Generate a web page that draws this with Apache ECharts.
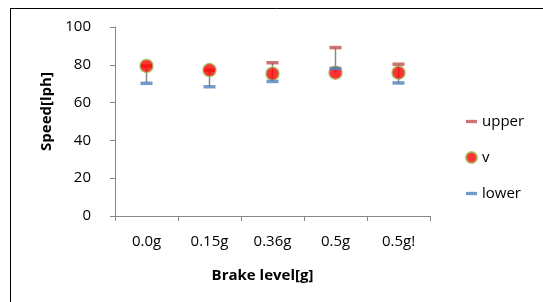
<!DOCTYPE html>
<html><head><meta charset="utf-8">
<script src="https://cdn.jsdelivr.net/npm/echarts@6/dist/echarts.min.js"></script>
<style>html,body{margin:0;padding:0;background:#fff}#c{width:543px;height:302px}</style>
</head><body><div id="c"></div>
<script>
var categories = ['0.0g', '0.15g', '0.36g', '0.5g', '0.5g!'];
var upper = [79.4, 77.2, 81.1, 89.1, 80.3];
var v = [79.4, 77.2, 75.3, 75.8, 75.8];
var lower = [70.2, 68.4, 71.2, 78.1, 70.4];
var yTicks = [0, 20, 40, 60, 80, 100];

var font = '"Open Sans", "Liberation Sans", sans-serif';
var hiLo = categories.map(function (c, i) {
  return [i, Math.max(upper[i], v[i], lower[i]), Math.min(upper[i], v[i], lower[i])];
});

var chart = echarts.init(document.getElementById('c'), null, {renderer: 'canvas'});
chart.setOption({
  animation: false,
  textStyle: {fontFamily: font},
  grid: {left: 115, right: 113, top: 27, bottom: 86},
  graphic: [
    {type: 'line', shape: {x1: 10.5, y1: 8, x2: 10.5, y2: 302}, style: {stroke: '#000', lineWidth: 1}},
    {type: 'line', shape: {x1: 10, y1: 8.5, x2: 543, y2: 8.5}, style: {stroke: '#000', lineWidth: 1}}
  ],
  xAxis: {
    type: 'category', data: categories, boundaryGap: true,
    axisLine: {lineStyle: {color: '#868686'}},
    axisTick: {show: true, length: 5, alignWithLabel: false, lineStyle: {color: '#868686'}},
    axisLabel: {color: '#000', fontSize: 15, margin: 18, fontFamily: font},
    name: 'Brake level[g]', nameLocation: 'middle', nameGap: 52,
    nameTextStyle: {color: '#000', fontSize: 15, fontWeight: 'bold', fontFamily: font, padding: [0, 20, 0, 0]}
  },
  yAxis: {
    type: 'value', min: yTicks[0], max: yTicks[yTicks.length - 1], interval: 20,
    splitLine: {show: false},
    axisLine: {show: true, lineStyle: {color: '#868686'}},
    axisTick: {show: true, length: 5, lineStyle: {color: '#868686'}},
    axisLabel: {color: '#000', fontSize: 15, margin: 24, fontFamily: font},
    name: 'Speed[lph]', nameLocation: 'middle', nameGap: 60,
    nameTextStyle: {color: '#000', fontSize: 15, fontWeight: 'bold', fontFamily: font, padding: [0, 0, 0, 20]}
  },
  legend: {
    orient: 'vertical', left: 460, top: 109,
    itemWidth: 11, itemHeight: 11, itemGap: 21,
    textStyle: {color: '#000', fontSize: 15, fontFamily: font},
    data: [
      {name: 'upper', icon: 'path://M0,0h8v2.4h-8z'},
      {name: 'v', icon: 'circle'},
      {name: 'lower', icon: 'path://M0,0h8v2.4h-8z'}
    ]
  },
  series: [
    {
      type: 'custom', name: 'hilo', data: hiLo, z: 1,
      renderItem: function (params, api) {
        var p1 = api.coord([api.value(0), api.value(1)]);
        var p2 = api.coord([api.value(0), api.value(2)]);
        return {type: 'line', shape: {x1: p1[0], y1: p1[1], x2: p2[0], y2: p2[1]},
          style: {stroke: '#868686', lineWidth: 1.5}};
      },
      encode: {x: 0, y: [1, 2]}
    },
    {
      type: 'scatter', name: 'upper', data: upper, z: 2,
      symbol: 'rect', symbolSize: [12, 3.5],
      itemStyle: {color: '#C0504D'}
    },
    {
      type: 'scatter', name: 'v', data: v, z: 3,
      symbol: 'circle', symbolSize: 13,
      itemStyle: {color: '#FF0000', borderColor: '#9BBB59', borderWidth: 1.5}
    },
    {
      type: 'scatter', name: 'lower', data: lower, z: 4,
      symbol: 'rect', symbolSize: [12, 3.5],
      itemStyle: {color: '#4F81BD'}
    }
  ]
});
</script></body></html>
